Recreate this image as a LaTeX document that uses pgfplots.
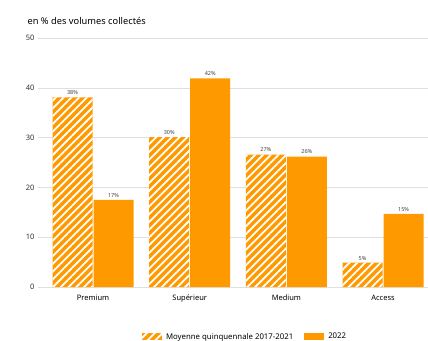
\documentclass[border=0pt]{standalone}
\usepackage{fontspec}
\setmainfont{Noto Sans}
\usepackage{pgfplots}
\pgfplotsset{compat=1.18}
\usetikzlibrary{patterns.meta}
\definecolor{or}{HTML}{FF9900}
\begin{document}
\begin{tikzpicture}
\useasboundingbox (-38pt,-53pt) rectangle (390pt,287pt);
\begin{axis}[
  scale only axis, width=390pt, height=249pt,
  ymin=0, ymax=50, ytick={0,10,...,50},
  xmin=-0.569, xmax=3.465, xtick=data,
  xticklabels={Premium,Supérieur,Medium,Access},
  axis line style={draw=none}, tick style={draw=none},
  ymajorgrids, grid style={gray!25, line width=0.6pt},
  ybar=1pt, bar width=40pt,
  tick label style={font=\fontsize{7.5}{8}\selectfont},
  yticklabel style={text=black!80, xshift=0pt},
  xticklabel style={yshift=0pt},
  /pgf/number format/assume math mode=true,
  nodes near coords={\pgfplotspointmeta\%},
  point meta=explicit symbolic,
  every node near coord/.append style={font=\fontsize{5.5}{6}\selectfont, text=black!75, yshift=-1pt},
  legend style={at={(axis description cs:0.531,-0.2)}, anchor=center, draw=none, legend columns=2, font=\fontsize{7.8}{8}\selectfont, /tikz/every odd column/.append style={column sep=2pt}, /tikz/every even column/.append style={column sep=9pt}},
  legend image code/.code={\fill[#1] (0pt,-3.5pt) rectangle (20pt,3.5pt);},
]
\addplot[fill=or, draw=none, postaction={pattern={Lines[angle=45,distance=5.5pt,line width=1.8pt]}, pattern color=white}] coordinates {(0,38.1) [38] (1,30.1) [30] (2,26.6) [27] (3,4.9) [5]};
\addlegendentry{Moyenne quinquennale 2017-2021}
\addplot[fill=or, draw=none] coordinates {(0,17.5) [17] (1,41.9) [42] (2,26.2) [26] (3,14.7) [15]};
\addlegendentry{2022}
\end{axis}
\node[anchor=west, font=\fontsize{9.3}{10}\selectfont] at (-14pt,266pt) {en \% des volumes collectés};
\end{tikzpicture}
\end{document}
